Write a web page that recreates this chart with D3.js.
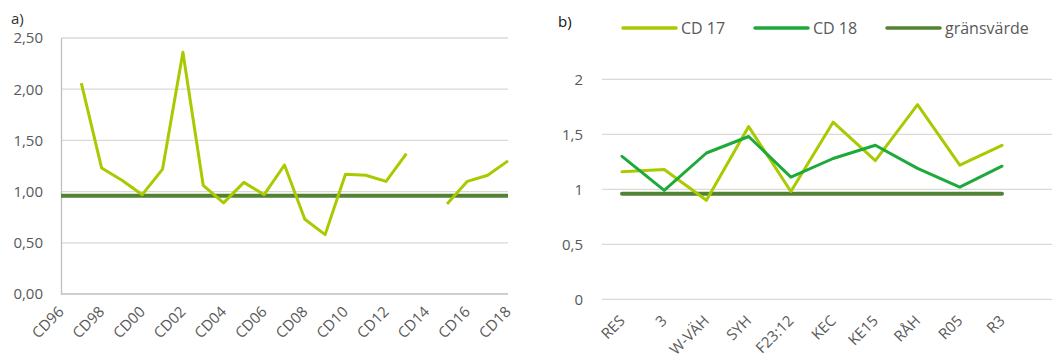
<!DOCTYPE html>
<html>
<head>
<meta charset="utf-8">
<script src="https://cdn.jsdelivr.net/npm/d3@7"></script>
<style>
  html, body { margin: 0; padding: 0; background: #ffffff; }
  svg { display: block; font-family: "Open Sans", "Liberation Sans", sans-serif; }
</style>
</head>
<body>
<svg id="chart" width="1054" height="360"></svg>
<script>
// ---- a) yearly series CD96–CD18 ----
const yearCats = ["CD96","CD97","CD98","CD99","CD00","CD01","CD02","CD03","CD04","CD05","CD06","CD07",
                  "CD08","CD09","CD10","CD11","CD12","CD13","CD14","CD15","CD16","CD17","CD18"];
const yearValues = [null, 2.06, 1.23, 1.11, 0.97, 1.22, 2.36, 1.06, 0.89, 1.09, 0.97, 1.26,
                    0.73, 0.58, 1.17, 1.16, 1.10, 1.37, null, 0.88, 1.10, 1.16, 1.30];
const yearTickLabels = ["CD96","CD98","CD00","CD02","CD04","CD06","CD08","CD10","CD12","CD14","CD16","CD18"];
const yTicksA = [0, 0.5, 1, 1.5, 2, 2.5];

// ---- b) per-site comparison ----
const siteCats = ["RES","3","W-VÄH","SYH","F23:12","KEC","KE15","RÅH","R05","R3"];
const cd17Values = [1.16, 1.18, 0.90, 1.57, 0.98, 1.61, 1.26, 1.77, 1.22, 1.40];
const cd18Values = [1.30, 0.99, 1.33, 1.48, 1.11, 1.28, 1.40, 1.19, 1.02, 1.21];
const yTicksB = [0, 0.5, 1, 1.5, 2];
const seriesNames = ["CD 17", "CD 18", "gränsvärde"];

// shared limit value
const limitValue = 0.96;

const colLight = "#a9ca00";
const colMid = "#1daa3b";
const colDark = "#548235";
const textCol = "#595959";
const gridCol = "#d9d9d9";

const svg = d3.select("#chart");
const fmtA = d3.format(".2f");
const comma = s => s.replace(".", ",");

// ===================== Panel a =====================
const xA = d3.scalePoint().domain(yearCats).range([61, 508]);
const yA = d3.scaleLinear().domain([0, 2.5]).range([294, 38]);
const gA = svg.append("g");

gA.append("text").attr("x", 11).attr("y", 24).attr("font-size", 15).attr("fill", "#333")
  .text("a)");

// gridlines
gA.append("g").selectAll("line").data(yTicksA.filter(d => d > 0)).join("line")
  .attr("x1", 61).attr("x2", 508)
  .attr("y1", d => yA(d)).attr("y2", d => yA(d))
  .attr("stroke", gridCol).attr("stroke-width", 1.3);

// y axis
const axA = d3.axisLeft(yA).tickValues(yTicksA).tickSize(0).tickPadding(18)
  .tickFormat(d => comma(fmtA(d)));
gA.append("g").attr("transform", "translate(61,0)").call(axA)
  .call(g => g.select(".domain").attr("stroke", "#bfbfbf").attr("stroke-width", 1.3))
  .call(g => g.selectAll("text").attr("font-size", 15).attr("fill", textCol)
    .attr("font-family", "'Open Sans', sans-serif"));

// x axis baseline
gA.append("line").attr("x1", 61).attr("x2", 508).attr("y1", yA(0)).attr("y2", yA(0))
  .attr("stroke", "#bfbfbf").attr("stroke-width", 1.3);

// x labels
gA.append("g").selectAll("text").data(yearTickLabels).join("text")
  .attr("transform", d => `translate(${xA(d)},309) rotate(-45)`)
  .attr("text-anchor", "end").attr("dy", "0.35em")
  .attr("font-size", 15).attr("fill", textCol).text(d => d);

// limit line
gA.append("line").attr("x1", 61).attr("x2", 508)
  .attr("y1", yA(limitValue)).attr("y2", yA(limitValue))
  .attr("stroke", colDark).attr("stroke-width", 4);

// series line (gaps where missing)
const lineA = d3.line().defined(d => d.v != null).x(d => xA(d.c)).y(d => yA(d.v));
gA.append("path")
  .datum(yearCats.map((c, i) => ({ c, v: yearValues[i] })))
  .attr("d", lineA).attr("fill", "none").attr("stroke", colLight)
  .attr("stroke-width", 3).attr("stroke-linejoin", "round");

// ===================== Panel b =====================
const xB = d3.scalePoint().domain(siteCats).range([622, 1002]);
const yB = d3.scaleLinear().domain([0, 2.5]).range([299.3, 24.3]);
const gB = svg.append("g");

gB.append("text").attr("x", 558).attr("y", 27).attr("font-size", 15).attr("fill", "#111")
  .text("b)");

gB.append("g").selectAll("line").data(yTicksB).join("line")
  .attr("x1", 602).attr("x2", 1052)
  .attr("y1", d => yB(d)).attr("y2", d => yB(d))
  .attr("stroke", gridCol).attr("stroke-width", 1.3);

const axB = d3.axisLeft(yB).tickValues(yTicksB).tickSize(0).tickPadding(0)
  .tickFormat(d => comma(String(d)));
gB.append("g").attr("transform", "translate(583,0)").call(axB)
  .call(g => g.select(".domain").remove())
  .call(g => g.selectAll("text").attr("font-size", 15).attr("fill", textCol)
    .attr("font-family", "'Open Sans', sans-serif"));

gB.append("g").selectAll("text").data(siteCats).join("text")
  .attr("transform", d => `translate(${xB(d)},318) rotate(-45)`)
  .attr("text-anchor", "end").attr("dy", "0.35em")
  .attr("font-size", 15).attr("fill", textCol).text(d => d);

// limit line across categories
gB.append("line").attr("x1", xB(siteCats[0])).attr("x2", xB(siteCats[siteCats.length - 1]))
  .attr("y1", yB(limitValue)).attr("y2", yB(limitValue))
  .attr("stroke", colDark).attr("stroke-width", 4).attr("stroke-linecap", "round");

const lineB = d3.line().x(d => xB(d.c)).y(d => yB(d.v));
[[cd17Values, colLight], [cd18Values, colMid]].forEach(([vals, col]) => {
  gB.append("path")
    .datum(siteCats.map((c, i) => ({ c, v: vals[i] })))
    .attr("d", lineB).attr("fill", "none").attr("stroke", col)
    .attr("stroke-width", 3).attr("stroke-linejoin", "round").attr("stroke-linecap", "round");
});

// legend
const legendItems = [
  { name: seriesNames[0], col: colLight, x: 623 },
  { name: seriesNames[1], col: colMid, x: 755 },
  { name: seriesNames[2], col: colDark, x: 887 }
];
const lg = gB.append("g").selectAll("g").data(legendItems).join("g")
  .attr("transform", d => `translate(${d.x},28)`);
lg.append("line").attr("x1", 0).attr("x2", 53).attr("y1", 0).attr("y2", 0)
  .attr("stroke", d => d.col).attr("stroke-width", 3.5).attr("stroke-linecap", "round");
lg.append("text").attr("x", 58).attr("dy", "0.35em").attr("font-size", 16)
  .attr("fill", textCol).text(d => d.name);
</script>
</body>
</html>
